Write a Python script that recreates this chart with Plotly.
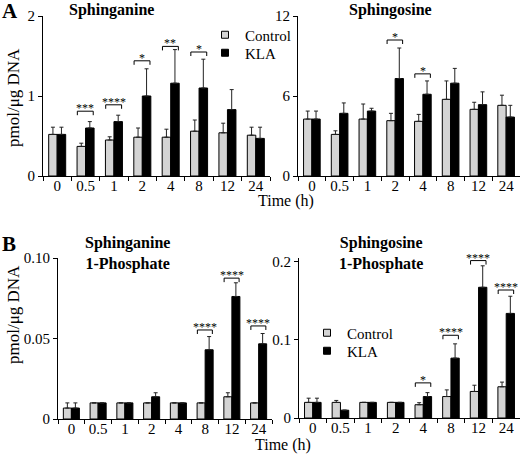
import plotly.graph_objects as go

times = ["0", "0.5", "1", "2", "4", "8", "12", "24"]

# Panel A-left: Sphinganine
sa_ctrl = [0.52, 0.37, 0.45, 0.485, 0.485, 0.56, 0.54, 0.51]
sa_ctrl_top = [0.61, 0.41, 0.49, 0.60, 0.585, 0.70, 0.66, 0.61]
sa_kla = [0.52, 0.60, 0.68, 1.00, 1.16, 1.10, 0.83, 0.47]
sa_kla_top = [0.61, 0.68, 0.76, 1.34, 1.58, 1.46, 1.08, 0.61]
sa_sig = {1: ("***", 0.81), 2: ("****", 0.89), 3: ("*", 1.44), 4: ("**", 1.62), 5: ("*", 1.55)}

# Panel A-right: Sphingosine
so_ctrl = [4.27, 3.12, 4.27, 4.15, 4.10, 5.75, 5.00, 5.30]
so_ctrl_top = [4.87, 3.39, 5.40, 4.70, 4.62, 7.13, 5.53, 6.06]
so_kla = [4.27, 4.70, 4.87, 7.31, 6.13, 6.96, 5.35, 4.42]
so_kla_top = [4.87, 5.48, 5.08, 9.60, 7.13, 8.07, 6.31, 5.30]
so_sig = {3: ("*", 10.2), 4: ("*", 7.66)}

# Panel B-left: Sphinganine 1-Phosphate
sa1p_ctrl = [0.0068, 0.01, 0.01, 0.01, 0.01, 0.01, 0.0138, 0.01]
sa1p_ctrl_top = [0.010, 0.01, 0.01, 0.01, 0.01, 0.01, 0.0163, 0.01]
sa1p_kla = [0.0068, 0.01, 0.01, 0.0138, 0.01, 0.043, 0.0761, 0.0467]
sa1p_kla_top = [0.010, 0.01, 0.01, 0.0163, 0.01, 0.0512, 0.0846, 0.0531]
sa1p_sig = {5: ("****", 0.0553), 6: ("****", 0.0875), 7: ("****", 0.0578)}

# Panel B-right: Sphingosine 1-Phosphate
so1p_ctrl = [0.020, 0.020, 0.020, 0.020, 0.017, 0.0275, 0.034, 0.040]
so1p_ctrl_top = [0.0254, 0.0225, 0.020, 0.020, 0.0196, 0.036, 0.042, 0.046]
so1p_kla = [0.020, 0.010, 0.020, 0.020, 0.0275, 0.0767, 0.1675, 0.134]
so1p_kla_top = [0.0254, 0.010, 0.020, 0.020, 0.0325, 0.095, 0.195, 0.156]
so1p_sig = {4: ("*", 0.045), 5: ("****", 0.106), 6: ("****", 0.2017), 7: ("****", 0.164)}

W, H = 520, 456
FONT = "Liberation Serif, Times New Roman, DejaVu Serif, serif"
CTRL_COLOR = "#d4d4d4"
KLA_COLOR = "#000000"

panels = [
    dict(ax="", ctrl=sa_ctrl, ctop=sa_ctrl_top, kla=sa_kla, ktop=sa_kla_top, sig=sa_sig,
         xdom=(43, 270), ydom=(176, 16), rng=[0, 2], tv=[0, 1, 2], tt=["0", "1", "2"]),
    dict(ax="2", ctrl=so_ctrl, ctop=so_ctrl_top, kla=so_kla, ktop=so_kla_top, sig=so_sig,
         xdom=(298, 520), ydom=(176, 16), rng=[0, 12], tv=[0, 6, 12], tt=["0", "6", "12"]),
    dict(ax="3", ctrl=sa1p_ctrl, ctop=sa1p_ctrl_top, kla=sa1p_kla, ktop=sa1p_kla_top, sig=sa1p_sig,
         xdom=(58, 272), ydom=(419, 258), rng=[0, 0.1], tv=[0, 0.05, 0.1], tt=["0", "0.05", "0.10"]),
    dict(ax="4", ctrl=so1p_ctrl, ctop=so1p_ctrl_top, kla=so1p_kla, ktop=so1p_kla_top, sig=so1p_sig,
         xdom=(299, 520), ydom=(418, 258), rng=[0, 0.205], tv=[0, 0.1, 0.2], tt=["0", "0.1", "0.2"]),
]

fig = go.Figure()
xs = list(range(len(times)))
shapes = []
annotations = []
layout_axes = {}

for p in panels:
    xa = "x" + p["ax"]
    ya = "y" + p["ax"]
    err_c = [t - v for t, v in zip(p["ctop"], p["ctrl"])]
    err_k = [t - v for t, v in zip(p["ktop"], p["kla"])]
    fig.add_trace(go.Bar(
        x=xs, y=p["ctrl"], xaxis=xa, yaxis=ya, offsetgroup="c", name="Control",
        marker=dict(color=CTRL_COLOR, line=dict(color="black", width=1)),
        error_y=dict(type="data", array=err_c, arrayminus=[0] * 8, symmetric=False,
                     color="#222", thickness=1, width=2),
        showlegend=False))
    fig.add_trace(go.Bar(
        x=xs, y=p["kla"], xaxis=xa, yaxis=ya, offsetgroup="k", name="KLA",
        marker=dict(color=KLA_COLOR, line=dict(color="black", width=1)),
        error_y=dict(type="data", array=err_k, arrayminus=[0] * 8, symmetric=False,
                     color="#222", thickness=1, width=2),
        showlegend=False))
    drop = 0.025 * p["rng"][1]
    for i, (txt, yv) in p["sig"].items():
        x0, x1 = i - 0.29, i + 0.27
        shapes.append(dict(type="path", xref=xa, yref=ya,
                           path=f"M {x0},{yv - drop} L {x0},{yv} L {x1},{yv} L {x1},{yv - drop}",
                           line=dict(color="black", width=1)))
        annotations.append(dict(x=i - 0.01, y=yv, xref=xa, yref=ya, text=txt, showarrow=False,
                                yanchor="bottom", yshift=-6,
                                font=dict(family=FONT, size=12, color="black")))
    key = p["ax"]
    layout_axes["xaxis" + key] = dict(
        domain=[p["xdom"][0] / W, p["xdom"][1] / W], anchor=ya, range=[-0.5, 7.5],
        tickmode="array", tickvals=xs, ticktext=times, ticks="", showline=True,
        linecolor="black", linewidth=1, showgrid=False, zeroline=False, automargin=False,
        ticklabelstandoff=-4,
        tickfont=dict(family=FONT, size=15, color="black"),
        minor=dict(tickmode="array", tickvals=[i - 0.5 for i in range(9)], ticks="outside",
                   ticklen=4, tickcolor="black", tickwidth=1, showgrid=False))
    layout_axes["yaxis" + key] = dict(
        domain=[1 - p["ydom"][0] / H, 1 - p["ydom"][1] / H], anchor=xa, range=p["rng"],
        tickmode="array", tickvals=p["tv"], ticktext=p["tt"], ticks="outside", ticklen=4,
        tickcolor="black", showline=True, linecolor="black", linewidth=1, showgrid=False,
        zeroline=False, automargin=False, tickfont=dict(family=FONT, size=15, color="black"))

# legend entries (small square swatches), one legend per entry for exact placement
legend_items = [
    ("legend", "x", "y", "Control", CTRL_COLOR, 205, 35),
    ("legend2", "x", "y", "KLA", KLA_COLOR, 205, 53),
    ("legend3", "x4", "y4", "Control", CTRL_COLOR, 307, 333),
    ("legend4", "x4", "y4", "KLA", KLA_COLOR, 307, 351),
]
legend_layout = {}
for lg, xa, ya, name, col, lx, ly in legend_items:
    fig.add_trace(go.Scatter(x=[None], y=[None], xaxis=xa, yaxis=ya, mode="markers", name=name,
                             marker=dict(symbol="square", size=7, color=col,
                                         line=dict(color="black", width=1)), legend=lg))
    legend_layout[lg] = dict(x=lx / W, y=1 - ly / H, xanchor="left", yanchor="middle",
                             font=dict(family=FONT, size=15, color="black"),
                             bgcolor="rgba(0,0,0,0)", borderwidth=0, itemwidth=30,
                             itemsizing="trace")


def txt(x, y, s, size, bold=False, xanchor="center", angle=0):
    annotations.append(dict(x=x / W, y=1 - y / H, xref="paper", yref="paper",
                            text=f"<b>{s}</b>" if bold else s, showarrow=False,
                            xanchor=xanchor, yanchor="middle", textangle=angle,
                            font=dict(family=FONT, size=size, color="black")))


txt(0, 11, "A", 21, bold=True, xanchor="left")
txt(111, 10, "Sphinganine", 16, bold=True)
txt(390, 10, "Sphingosine", 16, bold=True)
txt(286, 201, "Time (h)", 16)
txt(13, 98, "pmol/μg DNA", 17, angle=-90)
txt(0, 244, "B", 21, bold=True, xanchor="left")
txt(127, 253, "Sphinganine<br>1-Phosphate", 16, bold=True)
txt(381, 253, "Sphingosine<br>1-Phosphate", 16, bold=True)
txt(13, 315, "pmol/μg DNA", 17, angle=-90)
txt(283, 445, "Time (h)", 16)

fig.update_layout(
    width=W, height=H, margin=dict(l=0, r=0, t=0, b=0, autoexpand=False),
    paper_bgcolor="white", plot_bgcolor="white",
    barmode="group", bargap=0.4, bargroupgap=0,
    shapes=shapes, annotations=annotations,
    **legend_layout,
    **layout_axes)

fig.write_html("out.html", config={"displayModeBar": False},
               post_script="document.body.style.margin='0';")
